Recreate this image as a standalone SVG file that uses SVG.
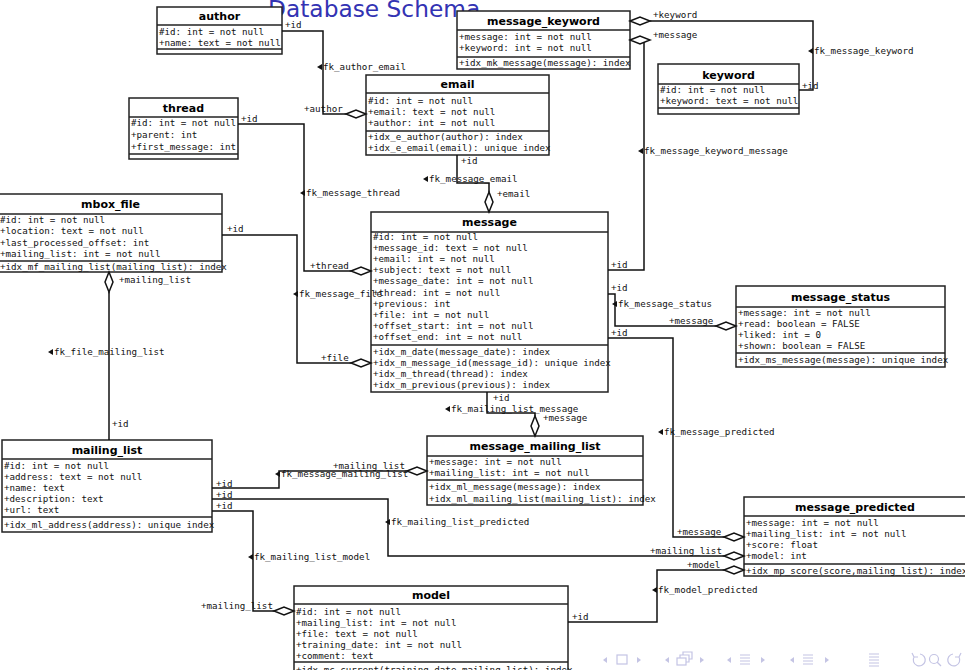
<svg xmlns="http://www.w3.org/2000/svg" width="965" height="670" viewBox="0 0 965 670">
<style>
.box{fill:#fff;stroke:#222;stroke-width:1.5}
.sep{stroke:#222;stroke-width:1.5}
.h{font-family:"DejaVu Sans",sans-serif;font-weight:bold;font-size:11px;text-anchor:middle;fill:#000}
.t{font-family:"DejaVu Sans Mono",monospace;font-size:9.2px;fill:#111}
.c{fill:none;stroke:#111;stroke-width:1.5}
.d{fill:#fff;stroke:#111;stroke-width:1.5}
.a{fill:#111}
.nav{fill:none;stroke:#c4c4e4;stroke-width:1.2}
.navf{fill:#c4c4e4}
</style>
<defs>
<polygon id="dh" class="d" points="0,0 10,-4 20,0 10,4"/>
<polygon id="dv" class="d" points="0,0 -4,10 0,20 4,10"/>
<polygon id="ar" class="a" points="0,0 5,-3 5,3"/>
</defs>
<rect width="965" height="670" fill="#fff"/>
<text x="268" y="17" font-family="DejaVu Sans,sans-serif" font-size="23.3" fill="#3333B3">Database Schema</text>

<g id="author">
<rect class="box" x="157" y="7" width="125" height="47"/>
<line class="sep" x1="157" y1="25" x2="282" y2="25"/>
<line class="sep" x1="157" y1="49" x2="282" y2="49"/>
<text class="h" x="219.5" y="20">author</text>
<text class="t" x="159" y="35">#id: int = not null</text>
<text class="t" x="159" y="46">+name: text = not null</text>
</g>

<g id="message_keyword">
<rect class="box" x="457" y="11" width="173" height="58"/>
<line class="sep" x1="457" y1="30" x2="630" y2="30"/>
<line class="sep" x1="457" y1="57" x2="630" y2="57"/>
<text class="h" x="543.5" y="25">message_keyword</text>
<text class="t" x="459" y="40">+message: int = not null</text>
<text class="t" x="459" y="51">+keyword: int = not null</text>
<text class="t" x="459" y="66">+idx_mk_message(message): index</text>
</g>

<g id="keyword">
<rect class="box" x="658" y="64" width="141" height="50"/>
<line class="sep" x1="658" y1="84" x2="799" y2="84"/>
<line class="sep" x1="658" y1="108" x2="799" y2="108"/>
<text class="h" x="728.5" y="79">keyword</text>
<text class="t" x="660" y="93">#id: int = not null</text>
<text class="t" x="660" y="104">+keyword: text = not null</text>
</g>

<g id="email">
<rect class="box" x="366" y="75" width="183" height="80"/>
<line class="sep" x1="366" y1="93" x2="549" y2="93"/>
<line class="sep" x1="366" y1="131" x2="549" y2="131"/>
<text class="h" x="457.5" y="88">email</text>
<text class="t" x="368" y="104">#id: int = not null</text>
<text class="t" x="368" y="115">+email: text = not null</text>
<text class="t" x="368" y="126">+author: int = not null</text>
<text class="t" x="368" y="140">+idx_e_author(author): index</text>
<text class="t" x="368" y="151">+idx_e_email(email): unique index</text>
</g>

<g id="thread">
<rect class="box" x="129" y="98" width="109" height="61"/>
<line class="sep" x1="129" y1="117" x2="238" y2="117"/>
<line class="sep" x1="129" y1="154" x2="238" y2="154"/>
<text class="h" x="183.5" y="112">thread</text>
<text class="t" x="131" y="126">#id: int = not null</text>
<text class="t" x="131" y="138">+parent: int</text>
<text class="t" x="131" y="150">+first_message: int</text>
</g>

<g id="mbox_file">
<rect class="box" x="-1" y="194" width="223" height="78"/>
<line class="sep" x1="-1" y1="214" x2="222" y2="214"/>
<line class="sep" x1="-1" y1="261" x2="222" y2="261"/>
<text class="h" x="110.5" y="208">mbox_file</text>
<text class="t" x="0" y="223">#id: int = not null</text>
<text class="t" x="0" y="234.3">+location: text = not null</text>
<text class="t" x="0" y="245.6">+last_processed_offset: int</text>
<text class="t" x="0" y="257">+mailing_list: int = not null</text>
<text class="t" x="0" y="269.5">+idx_mf_mailing_list(mailing_list): index</text>
</g>

<g id="message">
<rect class="box" x="371" y="212" width="237" height="180"/>
<line class="sep" x1="371" y1="232" x2="608" y2="232"/>
<line class="sep" x1="371" y1="345" x2="608" y2="345"/>
<text class="h" x="489.5" y="226">message</text>
<text class="t" x="373" y="240">#id: int = not null</text>
<text class="t" x="373" y="251.1">+message_id: text = not null</text>
<text class="t" x="373" y="262.2">+email: int = not null</text>
<text class="t" x="373" y="273.3">+subject: text = not null</text>
<text class="t" x="373" y="284.4">+message_date: int = not null</text>
<text class="t" x="373" y="295.5">+thread: int = not null</text>
<text class="t" x="373" y="306.6">+previous: int</text>
<text class="t" x="373" y="317.7">+file: int = not null</text>
<text class="t" x="373" y="328.8">+offset_start: int = not null</text>
<text class="t" x="373" y="339.9">+offset_end: int = not null</text>
<text class="t" x="373" y="355">+idx_m_date(message_date): index</text>
<text class="t" x="373" y="366">+idx_m_message_id(message_id): unique index</text>
<text class="t" x="373" y="377">+idx_m_thread(thread): index</text>
<text class="t" x="373" y="388">+idx_m_previous(previous): index</text>
</g>

<g id="message_status">
<rect class="box" x="736" y="286" width="209" height="81"/>
<line class="sep" x1="736" y1="307" x2="945" y2="307"/>
<line class="sep" x1="736" y1="353" x2="945" y2="353"/>
<text class="h" x="840.5" y="301">message_status</text>
<text class="t" x="738" y="316">+message: int = not null</text>
<text class="t" x="738" y="327">+read: boolean = FALSE</text>
<text class="t" x="738" y="338">+liked: int = 0</text>
<text class="t" x="738" y="349">+shown: boolean = FALSE</text>
<text class="t" x="738" y="363">+idx_ms_message(message): unique index</text>
</g>

<g id="mailing_list">
<rect class="box" x="2" y="440" width="210" height="92"/>
<line class="sep" x1="2" y1="459" x2="212" y2="459"/>
<line class="sep" x1="2" y1="517" x2="212" y2="517"/>
<text class="h" x="107" y="454">mailing_list</text>
<text class="t" x="4" y="469">#id: int = not null</text>
<text class="t" x="4" y="480">+address: text = not null</text>
<text class="t" x="4" y="491">+name: text</text>
<text class="t" x="4" y="502">+description: text</text>
<text class="t" x="4" y="513">+url: text</text>
<text class="t" x="4" y="528">+idx_ml_address(address): unique index</text>
</g>

<g id="message_mailing_list">
<rect class="box" x="427" y="436" width="216" height="69"/>
<line class="sep" x1="427" y1="456" x2="643" y2="456"/>
<line class="sep" x1="427" y1="480" x2="643" y2="480"/>
<text class="h" x="535" y="450">message_mailing_list</text>
<text class="t" x="429" y="465">+message: int = not null</text>
<text class="t" x="429" y="476">+mailing_list: int = not null</text>
<text class="t" x="429" y="490">+idx_ml_message(message): index</text>
<text class="t" x="429" y="502">+idx_ml_mailing_list(mailing_list): index</text>
</g>

<g id="message_predicted">
<rect class="box" x="744" y="497" width="224" height="79"/>
<line class="sep" x1="744" y1="516" x2="968" y2="516"/>
<line class="sep" x1="744" y1="564" x2="968" y2="564"/>
<text class="h" x="855" y="511">message_predicted</text>
<text class="t" x="746" y="526">+message: int = not null</text>
<text class="t" x="746" y="537">+mailing_list: int = not null</text>
<text class="t" x="746" y="548">+score: float</text>
<text class="t" x="746" y="559">+model: int</text>
<text class="t" x="746" y="574">+idx_mp_score(score,mailing_list): index</text>
</g>

<g id="model">
<rect class="box" x="294" y="586" width="274" height="100"/>
<line class="sep" x1="294" y1="604" x2="568" y2="604"/>
<line class="sep" x1="294" y1="662" x2="568" y2="662"/>
<text class="h" x="431" y="599">model</text>
<text class="t" x="296" y="615">#id: int = not null</text>
<text class="t" x="296" y="626">+mailing_list: int = not null</text>
<text class="t" x="296" y="637">+file: text = not null</text>
<text class="t" x="296" y="648">+training_date: int = not null</text>
<text class="t" x="296" y="659">+comment: text</text>
<text class="t" x="296" y="673">+idx_mc_current(training_date,mailing_list): index</text>
</g>

<g id="connectors">
<path class="c" d="M282,31 H323 V114 H346"/>
<use href="#dh" x="346" y="114"/>
<text class="t" x="285" y="28">+id</text>
<text class="t" x="304" y="112">+author</text>
<use href="#ar" x="317" y="67"/>
<text class="t" x="323" y="70">fk_author_email</text>

<path class="c" d="M799,90 H813 V21 H650"/>
<use href="#dh" x="630" y="21"/>
<text class="t" x="653" y="18">+keyword</text>
<text class="t" x="802" y="89">+id</text>
<use href="#ar" x="808" y="51"/>
<text class="t" x="814" y="54">fk_message_keyword</text>

<path class="c" d="M644,42 V270 H608"/>
<use href="#dh" x="630" y="40"/>
<text class="t" x="653" y="38">+message</text>
<text class="t" x="611" y="268">+id</text>
<use href="#ar" x="638" y="151"/>
<text class="t" x="644" y="154">fk_message_keyword_message</text>

<path class="c" d="M457,155 V183 H489 V192"/>
<use href="#dv" x="489" y="192"/>
<text class="t" x="461" y="164">+id</text>
<use href="#ar" x="423" y="179"/>
<text class="t" x="429" y="182">fk_message_email</text>
<text class="t" x="497" y="197">+email</text>

<path class="c" d="M238,124 H304 V271 H351"/>
<use href="#dh" x="351" y="271"/>
<text class="t" x="241" y="122">+id</text>
<use href="#ar" x="300" y="193"/>
<text class="t" x="306" y="196">fk_message_thread</text>
<text class="t" x="310" y="269">+thread</text>

<path class="c" d="M222,235 H297 V363 H351"/>
<use href="#dh" x="351" y="363"/>
<text class="t" x="227" y="232">+id</text>
<use href="#ar" x="293" y="294"/>
<text class="t" x="299" y="297">fk_message_file</text>
<text class="t" x="321" y="361">+file</text>

<path class="c" d="M109,292 V440"/>
<use href="#dv" x="109" y="272"/>
<text class="t" x="119" y="283">+mailing_list</text>
<use href="#ar" x="48" y="352"/>
<text class="t" x="54" y="355">fk_file_mailing_list</text>
<text class="t" x="112" y="427">+id</text>

<path class="c" d="M487,392 V413 H535 V416"/>
<use href="#dv" x="535" y="416"/>
<text class="t" x="493" y="401">+id</text>
<use href="#ar" x="445" y="409"/>
<text class="t" x="451" y="412">fk_mailing_list_message</text>
<text class="t" x="543" y="421">+message</text>

<path class="c" d="M212,488 H279 V471 H407"/>
<use href="#dh" x="407" y="471"/>
<text class="t" x="216" y="487">+id</text>
<text class="t" x="333" y="469">+mailing_list</text>
<use href="#ar" x="275" y="474"/>
<text class="t" x="281" y="477">fk_message_mailing_list</text>

<path class="c" d="M212,499 H388 V556 H724"/>
<use href="#dh" x="724" y="556"/>
<text class="t" x="216" y="498">+id</text>
<use href="#ar" x="385" y="522"/>
<text class="t" x="391" y="525">fk_mailing_list_predicted</text>
<text class="t" x="650" y="554">+mailing_list</text>

<path class="c" d="M608,338 H673 V537 H724"/>
<use href="#dh" x="724" y="537"/>
<text class="t" x="611" y="336">+id</text>
<use href="#ar" x="658" y="432"/>
<text class="t" x="664" y="435">fk_message_predicted</text>
<text class="t" x="677" y="535">+message</text>

<path class="c" d="M608,294 H615 V326 H716"/>
<use href="#dh" x="716" y="326"/>
<text class="t" x="611" y="291">+id</text>
<use href="#ar" x="612" y="304"/>
<text class="t" x="618" y="307">fk_message_status</text>
<text class="t" x="669" y="324">+message</text>

<path class="c" d="M568,622 H657 V570 H724"/>
<use href="#dh" x="724" y="570"/>
<text class="t" x="572" y="620">+id</text>
<use href="#ar" x="652" y="590"/>
<text class="t" x="658" y="593">fk_model_predicted</text>
<text class="t" x="687" y="568">+model</text>

<path class="c" d="M212,511 H253 V611 H274"/>
<use href="#dh" x="274" y="611"/>
<text class="t" x="216" y="509">+id</text>
<use href="#ar" x="248" y="557"/>
<text class="t" x="254" y="560">fk_mailing_list_model</text>
<text class="t" x="201" y="609">+mailing_list</text>
</g>

<g id="nav">
<polygon class="navf" points="603,660 607,657 607,663"/>
<rect class="nav" x="617" y="655" width="10" height="9"/>
<polygon class="navf" points="641,660 637,657 637,663"/>
<polygon class="navf" points="665,660 669,657 669,663"/>
<rect class="nav" x="677" y="658" width="9" height="7"/>
<path class="nav" d="M680,658 V655 H689 V662 H686 M683,655 V652 H692 V659 H689"/>
<polygon class="navf" points="704,660 700,657 700,663"/>
<polygon class="navf" points="727,660 731,657 731,663"/>
<path class="nav" d="M740,655 H750 M740,658 H750 M740,661 H750 M740,664 H750"/>
<polygon class="navf" points="765,660 761,657 761,663"/>
<polygon class="navf" points="790,660 794,657 794,663"/>
<path class="nav" d="M803,655 H813 M803,658 H813 M803,661 H813 M803,664 H813"/>
<polygon class="navf" points="829,660 825,657 825,663"/>
<path class="nav" d="M869,654 H879 M869,657 H879 M869,660 H879 M869,663 H879 M869,666 H879"/>
<path class="nav" d="M914,657 A6,6 0 1 0 920,654 M914,657 L912,653 M914,657 L918,657"/>
<circle class="nav" cx="934" cy="659" r="4.5"/>
<path class="nav" d="M937,662 L941,666"/>
<path class="nav" d="M959,657 A6,6 0 1 1 953,654 M959,657 L961,653 M959,657 L955,657"/>
</g>
</svg>
